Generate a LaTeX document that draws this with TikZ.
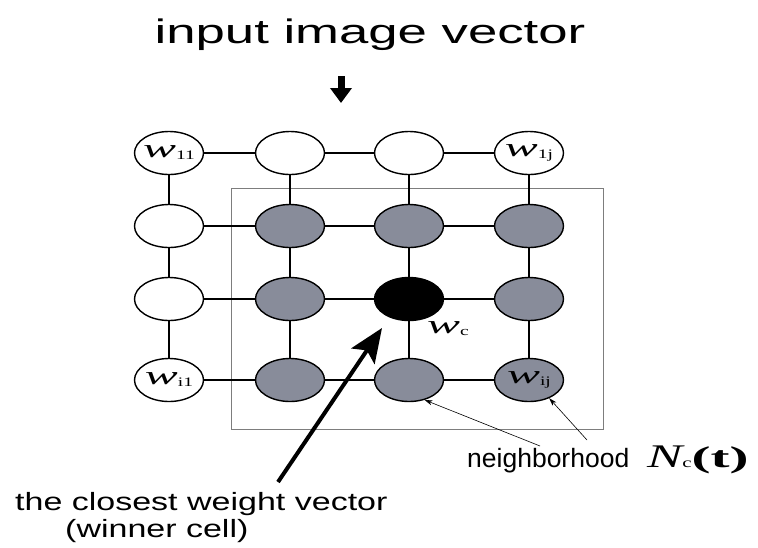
\documentclass[tikz,border=0pt]{standalone}
\usepackage{fontspec}
\setmainfont{Liberation Serif}
\newfontfamily\labfont{Liberation Sans}
\usetikzlibrary{shapes.geometric,arrows.meta}
\definecolor{cellgray}{RGB}{136,140,154}
\definecolor{framegray}{RGB}{125,125,125}
\newcommand\wsym[1]{{\rmfamily\scalebox{1.9}[1]{\fontsize{26}{26}\selectfont\itshape w}\raisebox{-2pt}{\scalebox{1.5}[1]{\fontsize{13}{13}\selectfont #1}}}}
\tikzset{
  cell/.style={ellipse,draw,line width=1.4pt,minimum width=69pt,minimum height=43pt,inner sep=0pt},
  link/.style={line width=1.8pt},
  frame/.style={framegray,line width=0.9pt},
  pointer/.style={line width=0.6pt,-{Stealth[length=8pt,width=5pt]}}
}
\begin{document}
\begin{tikzpicture}[x=1pt,y=-1pt,font=\labfont]
\useasboundingbox (0,0) rectangle (758,547);

\node[anchor=base] (title) at (370,43) {\scalebox{1.55}[1]{\fontsize{34}{34}\selectfont input image vector}};
\coordinate (intop) at (341,76);
\coordinate (inend) at (341,103);
\draw[line width=7pt,-{Triangle[length=15pt,width=21pt]}] (intop) -- (inend);

\draw[frame] (231,188) rectangle (603,429);

\foreach \r/\y in {1/153,2/226,3/299,4/380}
  \foreach \c/\x in {1/169,2/290,3/409,4/529}{
    \pgfmathtruncatemacro\inside{(\r>1)&&(\c>1)}
    \ifnum\r\c=33 \def\cf{black}\else\ifnum\inside=1 \def\cf{cellgray}\else\def\cf{white}\fi\fi
    \node[cell,fill=\cf] (n\r\c) at (\x,\y) {};
  }
\foreach \r in {1,...,4}
  \foreach \a/\b in {1/2,2/3,3/4}{
    \draw[link] (n\r\a) -- (n\r\b);
    \draw[link] (n\a\r) -- (n\b\r);
  }

\node (l11) at (n11) {\wsym{11}};
\node (l14) at (n14) {\wsym{1j}};
\node (l41) at (n41) {\wsym{i1}};
\node (l44) at (n44) {\wsym{ij}};
\node[anchor=base west,inner sep=0pt] (lc) at (427,333) {\wsym{c}};

\coordinate (wintail) at (278,482);
\coordinate (wintip) at (382,328);
\draw[line width=4pt,-{Stealth[length=34pt,width=28pt,inset=7pt]}] (wintail) -- (wintip);

\coordinate (nbA) at (540,446);
\coordinate (nbB) at (587,440);
\draw[pointer] (nbA) -- (n43.-52);
\draw[pointer] (nbB) -- (n44.-42);

\node[anchor=base west,inner sep=0pt] (nbtext) at (467,467) {\fontsize{26.5}{26.5}\selectfont neighborhood};
\node[anchor=base west,inner sep=0pt] (nctext) at (647,467) {\rmfamily\scalebox{1.6}[1]{\fontsize{33}{33}\selectfont\itshape N}\scalebox{1.5}[1]{\fontsize{14}{14}\selectfont c}\scalebox{1.9}[1]{\fontsize{30}{30}\selectfont\bfseries (t)}};

\node[anchor=base west,inner sep=0pt] (closest) at (15,510) {\scalebox{1.36}[1]{\fontsize{25}{25}\selectfont the closest weight vector}};
\node[anchor=base west,inner sep=0pt] (winner) at (65,537) {\scalebox{1.36}[1]{\fontsize{25}{25}\selectfont (winner cell)}};
\end{tikzpicture}
\end{document}
